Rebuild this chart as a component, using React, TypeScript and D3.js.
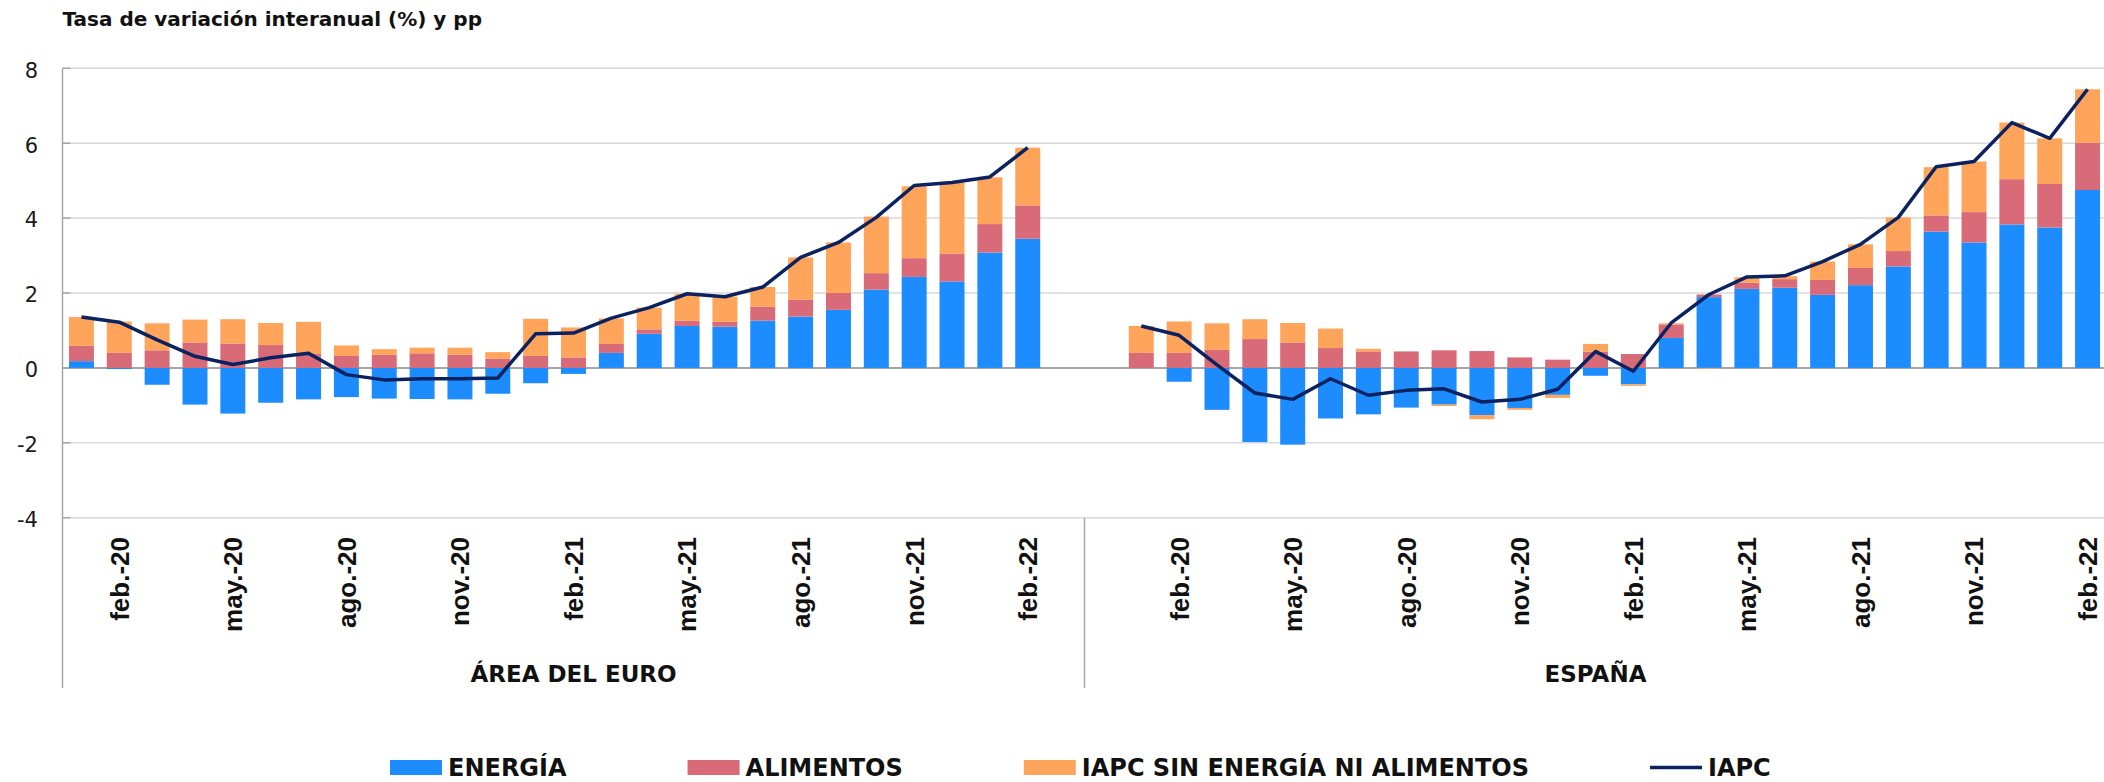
import React, { useEffect, useRef } from 'react'
import * as d3 from 'd3'

// meses (ene.-20 ... feb.-22), mismos para los dos paneles
const months = [
  'ene.-20', 'feb.-20', 'mar.-20', 'abr.-20', 'may.-20', 'jun.-20', 'jul.-20', 'ago.-20', 'sep.-20', 'oct.-20', 'nov.-20', 'dic.-20',
  'ene.-21', 'feb.-21', 'mar.-21', 'abr.-21', 'may.-21', 'jun.-21', 'jul.-21', 'ago.-21', 'sep.-21', 'oct.-21', 'nov.-21', 'dic.-21',
  'ene.-22', 'feb.-22'
]

// Área del euro: contribuciones (pp) e IAPC (%)
const euroEnergy = [0.18, -0.03, -0.45, -0.98, -1.22, -0.93, -0.84, -0.78, -0.82, -0.83, -0.84, -0.69, -0.41, -0.16, 0.40, 0.91, 1.12, 1.10, 1.26, 1.37, 1.55, 2.09, 2.43, 2.31, 3.08, 3.45]
const euroFood = [0.41, 0.40, 0.47, 0.68, 0.65, 0.61, 0.37, 0.32, 0.35, 0.39, 0.35, 0.25, 0.32, 0.28, 0.24, 0.12, 0.14, 0.13, 0.37, 0.45, 0.45, 0.44, 0.50, 0.74, 0.76, 0.89]
const euroCore = [0.77, 0.84, 0.72, 0.61, 0.65, 0.59, 0.86, 0.28, 0.15, 0.15, 0.19, 0.17, 0.99, 0.80, 0.68, 0.58, 0.72, 0.67, 0.53, 1.13, 1.35, 1.51, 1.92, 1.90, 1.25, 1.54]
const euroIapc = [1.36, 1.22, 0.75, 0.31, 0.09, 0.27, 0.39, -0.18, -0.32, -0.29, -0.29, -0.27, 0.91, 0.93, 1.33, 1.61, 1.98, 1.90, 2.16, 2.95, 3.35, 4.02, 4.87, 4.95, 5.10, 5.88]

// España
const spainEnergy = [0.00, -0.37, -1.12, -1.98, -2.05, -1.35, -1.24, -1.06, -0.98, -1.26, -1.07, -0.72, -0.21, -0.44, 0.80, 1.89, 2.11, 2.14, 1.95, 2.21, 2.71, 3.64, 3.35, 3.83, 3.75, 4.75]
const spainFood = [0.40, 0.40, 0.48, 0.77, 0.68, 0.53, 0.44, 0.44, 0.47, 0.45, 0.28, 0.22, 0.43, 0.37, 0.36, 0.07, 0.17, 0.23, 0.40, 0.46, 0.41, 0.43, 0.81, 1.21, 1.16, 1.26]
const spainCore = [0.72, 0.84, 0.71, 0.53, 0.52, 0.52, 0.07, 0.00, -0.04, -0.11, -0.05, -0.08, 0.21, -0.04, 0.03, -0.02, 0.14, 0.08, 0.49, 0.63, 0.90, 1.29, 1.35, 1.51, 1.22, 1.43]
const spainIapc = [1.12, 0.87, 0.08, -0.67, -0.84, -0.29, -0.73, -0.60, -0.56, -0.91, -0.84, -0.57, 0.44, -0.09, 1.20, 1.96, 2.43, 2.46, 2.84, 3.30, 4.02, 5.37, 5.51, 6.55, 6.13, 7.44]

const panelLabels = ['ÁREA DEL EURO', 'ESPAÑA']
const seriesKeys = ['energia', 'alimentos', 'subyacente']
const seriesLabels = {
  energia: 'ENERGÍA',
  alimentos: 'ALIMENTOS',
  subyacente: 'IAPC SIN ENERGÍA NI ALIMENTOS'
}
const lineLabel = 'IAPC'
const yTicks = [-4, -2, 0, 2, 4, 6, 8]

const colors = {
  energia: '#1c8cff',
  alimentos: '#d96a78',
  subyacente: '#ffa45b',
  iapc: '#0a2260'
}

const WIDTH = 2104
const HEIGHT = 782
const SANS = "'DejaVu Sans', sans-serif"
const ARIAL = "'Liberation Sans', Arial, sans-serif"

function App() {
  const ref = useRef(null)

  useEffect(() => {
    const svg = d3.select(ref.current)
    svg.selectAll('*').remove()

    const left = 62.5
    const slots = d3.range(54) // 26 meses + 2 huecos + 26 meses
    const gap = 28
    const x = d3.scaleBand()
      .domain(slots)
      .range([left, 2106.5])
      .paddingInner(0.34)
      .paddingOuter(0.17)
    const step = x.step()
    const bw = x.bandwidth()
    const cx = (s: number) => x(s) + bw / 2

    const y = d3.scaleLinear()
      .domain([-4, 8])
      .range([517.7, 68.3])

    const panels = [
      { energy: euroEnergy, food: euroFood, core: euroCore, iapc: euroIapc, offset: 0 },
      { energy: spainEnergy, food: spainFood, core: spainCore, iapc: spainIapc, offset: gap }
    ]

    const rows = []
    panels.forEach(p => {
      months.forEach((m, i) => {
        rows.push({ slot: i + p.offset, month: m, energia: p.energy[i], alimentos: p.food[i], subyacente: p.core[i] })
      })
    })

    // title
    svg.append('text')
      .attr('x', left)
      .attr('y', 26)
      .attr('font-family', SANS)
      .attr('font-weight', 'bold')
      .attr('font-size', 20)
      .attr('fill', '#111')
      .text('Tasa de variación interanual (%) y pp')

    // gridlines
    svg.append('g')
      .selectAll('line')
      .data(yTicks.filter(t => t !== 0))
      .join('line')
      .attr('x1', left)
      .attr('x2', WIDTH)
      .attr('y1', d => y(d))
      .attr('y2', d => y(d))
      .attr('stroke', '#d9d9d9')
      .attr('stroke-width', 1.5)

    // y labels
    svg.append('g')
      .selectAll('text')
      .data(yTicks)
      .join('text')
      .attr('x', 38)
      .attr('y', d => y(d) + 2)
      .attr('dy', '0.35em')
      .attr('text-anchor', 'end')
      .attr('font-family', SANS)
      .attr('font-size', 21)
      .attr('fill', '#1a1a1a')
      .text(d => d)

    // small ticks on the value axis
    svg.append('g')
      .selectAll('line')
      .data(yTicks)
      .join('line')
      .attr('x1', left)
      .attr('x2', left + 8)
      .attr('y1', d => y(d))
      .attr('y2', d => y(d))
      .attr('stroke', '#a6a6a6')
      .attr('stroke-width', 1.5)

    // zero line
    svg.append('line')
      .attr('x1', left)
      .attr('x2', WIDTH)
      .attr('y1', y(0))
      .attr('y2', y(0))
      .attr('stroke', '#a6a6a6')
      .attr('stroke-width', 2)

    // stacked bars (positives up, negatives down)
    const stacked = d3.stack()
      .keys(seriesKeys)
      .offset(d3.stackOffsetDiverging)(rows)

    svg.append('g')
      .selectAll('g')
      .data(stacked)
      .join('g')
      .attr('fill', d => colors[d.key])
      .selectAll('rect')
      .data(D => D)
      .join('rect')
      .attr('x', d => x(d.data.slot))
      .attr('width', bw)
      .attr('y', d => y(Math.max(d[0], d[1])))
      .attr('height', d => Math.abs(y(d[0]) - y(d[1])))

    // IAPC lines, one per panel
    const line = d3.line()
      .x(d => cx(d[0]))
      .y(d => y(d[1]))

    panels.forEach(p => {
      svg.append('path')
        .datum(p.iapc.map((v, i) => [i + p.offset, v]))
        .attr('d', line)
        .attr('fill', 'none')
        .attr('stroke', colors.iapc)
        .attr('stroke-width', 3.5)
        .attr('stroke-linejoin', 'round')
    })

    // axis lines
    const bottom = 688
    svg.append('line')
      .attr('x1', left).attr('x2', left)
      .attr('y1', y(8)).attr('y2', bottom)
      .attr('stroke', '#a6a6a6')
      .attr('stroke-width', 1.5)

    const divX = left + 27 * step
    svg.append('line')
      .attr('x1', divX).attr('x2', divX)
      .attr('y1', y(-4)).attr('y2', bottom)
      .attr('stroke', '#a6a6a6')
      .attr('stroke-width', 1.5)

    // month labels, every third month from feb.
    svg.append('g')
      .selectAll('text')
      .data(rows.filter((r, i) => (i % 26) % 3 === 1))
      .join('text')
      .attr('transform', d => `translate(${cx(d.slot)},537) rotate(-90)`)
      .attr('dy', '0.36em')
      .attr('text-anchor', 'end')
      .attr('font-family', ARIAL)
      .attr('font-weight', 'bold')
      .attr('font-size', 26)
      .attr('fill', '#111')
      .text(d => d.month)

    // panel labels
    svg.append('g')
      .selectAll('text')
      .data(panelLabels)
      .join('text')
      .attr('x', (d, i) => i === 0 ? (left + divX) / 2 : (divX + 2106.5) / 2)
      .attr('y', 682)
      .attr('text-anchor', 'middle')
      .attr('font-family', SANS)
      .attr('font-weight', 'bold')
      .attr('font-size', 23)
      .attr('fill', '#111')
      .text(d => d)

    // legend
    const legend = svg.append('g')
    const items = [...seriesKeys.map(k => ({ key: k, label: seriesLabels[k], type: 'rect' })), { key: 'iapc', label: lineLabel, type: 'line' }]
    let lx = 390
    items.forEach(it => {
      if (it.type === 'rect') {
        legend.append('rect')
          .attr('x', lx).attr('y', 760)
          .attr('width', 52).attr('height', 15)
          .attr('fill', colors[it.key])
      } else {
        legend.append('line')
          .attr('x1', lx).attr('x2', lx + 52)
          .attr('y1', 767.5).attr('y2', 767.5)
          .attr('stroke', colors.iapc)
          .attr('stroke-width', 3.5)
      }
      const t = legend.append('text')
        .attr('x', lx + 58)
        .attr('y', 776)
        .attr('font-family', SANS)
        .attr('font-weight', 'bold')
        .attr('font-size', 24)
        .attr('fill', '#111')
        .text(it.label)
      const w = t.node().getComputedTextLength()
      lx = lx + 58 + w + 121
    })
  }, [])

  return (
    <svg
      ref={ref}
      width={WIDTH}
      height={HEIGHT}
      style={{ position: 'absolute', left: 0, top: 0, background: '#fff', display: 'block' }}
    />
  )
}

export default App
